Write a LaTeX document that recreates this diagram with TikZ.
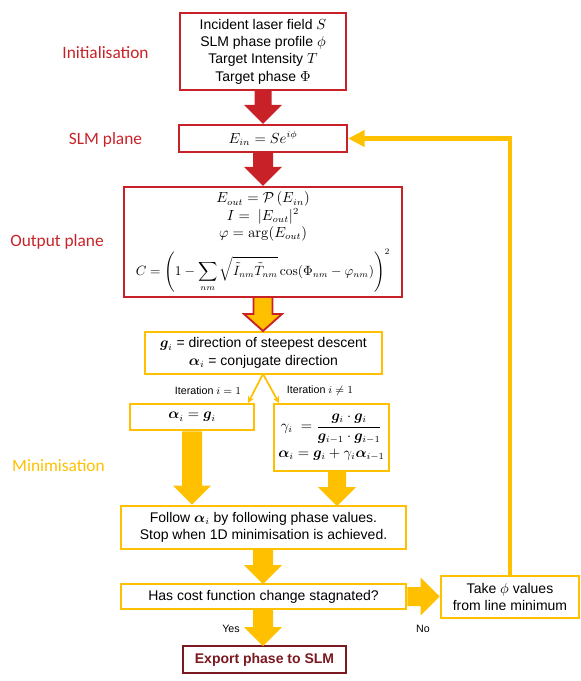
\documentclass[tikz,border=0pt]{standalone}
\usepackage{amsmath}
\usepackage{bm}
\usepackage{graphicx}
\usepackage[no-math]{fontspec}
\setmainfont{Liberation Sans}
\newfontfamily\labelfont{Carlito}
\usetikzlibrary{calc,arrows.meta}
\definecolor{myred}{RGB}{200,34,40}
\definecolor{myyellow}{RGB}{255,192,0}
\definecolor{mydark}{RGB}{122,26,32}
\tikzset{
  basebox/.style={draw, fill=white, align=center, inner sep=0pt, font=\fontsize{10.5}{13}\selectfont},
  redbox/.style={basebox, draw=myred, line width=1.6pt},
  yelbox/.style={basebox, draw=myyellow, line width=1.9pt},
  darkbox/.style={basebox, draw=mydark, line width=1.5pt, text=mydark, font=\fontsize{10.5}{13}\selectfont\bfseries},
  sidelabel/.style={font=\labelfont\fontsize{13}{15}\selectfont},
  smalllabel/.style={font=\fontsize{8}{10}\selectfont},
  redarrow/.style={fill=myred},
  yelarrow/.style={fill=myyellow},
  mixarrow/.style={fill=myyellow, draw=myred, line width=1.4pt, line join=miter},
  thinarrow/.style={draw=myyellow, line width=1.3pt, -{Stealth[length=5pt,width=5pt]}},
  loopline/.style={draw=myyellow, line width=3.6pt, -{Triangle[length=12.5pt,width=12pt]}}
}
% vertical block arrow: #1 start, #2 tip, #3 shaft hw, #4 head hw, #5 head length, #6 style
\newcommand\vblock[6]{\path[#6] ($(#1)+(-#3,0)$) -- ($(#1)+(#3,0)$) -- ($(#2)+(#3,-#5)$) -- ($(#2)+(#4,-#5)$) -- (#2) -- ($(#2)+(-#4,-#5)$) -- ($(#2)+(-#3,-#5)$) -- cycle;}
% horizontal block arrow (pointing right)
\newcommand\hblock[6]{\path[#6] ($(#1)+(0,-#3)$) -- ($(#1)+(0,#3)$) -- ($(#2)+(-#5,#3)$) -- ($(#2)+(-#5,#4)$) -- (#2) -- ($(#2)+(-#5,-#4)$) -- ($(#2)+(-#5,-#3)$) -- cycle;}
\begin{document}
\begin{tikzpicture}[x=0.75pt,y=-0.75pt]
\useasboundingbox (0,0) rectangle (581,681);

% boxes
\node[redbox, minimum width={166*0.75pt}, minimum height={77*0.75pt}] (top) at (263,51.5)
  {Incident laser field $S$\\ SLM phase profile $\phi$\\ Target Intensity $T$\\ Target phase $\Phi$};
\node[redbox, minimum width={168*0.75pt}, minimum height={27*0.75pt}] (slm) at (263,138.5)
  {$E_{in} = Se^{i\phi}$};
\node[redbox, minimum width={278*0.75pt}, minimum height={110*0.75pt}] (out) at (263,242)
  {$E_{out} = \mathcal{P}\,(E_{in})$\\ $I = \ |E_{out}|^2$\\ $\varphi = \arg(E_{out})$\\[5pt]
   \scalebox{0.92}{$\displaystyle C = \left(1-\sum_{nm}\sqrt{\tilde{I}_{nm}\tilde{T}_{nm}}\cos(\Phi_{nm}-\varphi_{nm})\right)^{2}$}};
\node[yelbox, minimum width={237*0.75pt}, minimum height={42*0.75pt}] (g) at (263.5,353)
  {$\bm{g}_i$ = direction of steepest descent\\ $\bm{\alpha}_i$ = conjugate direction};
\node[yelbox, minimum width={124*0.75pt}, minimum height={26*0.75pt}] (alpha) at (192,417)
  {$\bm{\alpha}_i = \bm{g}_i$};
\node[yelbox, minimum width={115*0.75pt}, minimum height={67*0.75pt}] (gamma) at (331.5,437.5)
  {$\gamma_i \ = \dfrac{\bm{g}_i\cdot\bm{g}_i}{\bm{g}_{i-1}\cdot\bm{g}_{i-1}}$\\[3pt] $\bm{\alpha}_i = \bm{g}_i + \gamma_i\bm{\alpha}_{i-1}$};
\node[yelbox, minimum width={285*0.75pt}, minimum height={43*0.75pt}] (follow) at (263.5,527.5)
  {Follow $\bm{\alpha}_i$ by following phase values.\\ Stop when 1D minimisation is achieved.};
\node[yelbox, minimum width={285*0.75pt}, minimum height={25*0.75pt}] (has) at (263.5,596.5)
  {Has cost function change stagnated?};
\node[yelbox, minimum width={138*0.75pt}, minimum height={42*0.75pt}] (take) at (510,597)
  {Take $\phi$ values\\ from line minimum};
\node[darkbox, minimum width={163*0.75pt}, minimum height={27*0.75pt}] (export) at (264.5,659.5)
  {Export phase to SLM};

% side labels
\node[sidelabel, text=myred] (l1) at (105.5,53) {Initialisation};
\node[sidelabel, text=myred] (l2) at (105.5,140) {SLM plane};
\node[sidelabel, text=myred] (l3) at (57,242) {Output plane};
\node[sidelabel, text=myyellow] (l4) at (58.5,466) {Minimisation};

% small labels
\node[smalllabel] (it1) at (208,391) {Iteration $i = 1$};
\node[smalllabel] (it2) at (320,391) {Iteration $i \neq 1$};
\node[smalllabel] (yes) at (231,629) {Yes};
\node[smalllabel] (no) at (423,629) {No};

% block arrows
\coordinate (t1) at (top.south |- slm.north);
\vblock{top.south}{t1}{8.5}{19}{19}{redarrow}
\coordinate (t2) at (slm.south |- out.north);
\vblock{slm.south}{t2}{10}{19}{19}{redarrow}
\coordinate (s3) at (263,297);
\coordinate (t3) at (263,331);
\vblock{s3}{t3}{9.5}{19}{17}{mixarrow}
\coordinate (t4) at (alpha.south |- follow.north);
\vblock{alpha.south}{t4}{10}{19}{19}{yelarrow}
\coordinate (s5) at (337,471);
\coordinate (t5) at (337,506);
\vblock{s5}{t5}{9}{19}{19}{yelarrow}
\coordinate (s6) at (263,549);
\coordinate (t6) at (263,584);
\vblock{s6}{t6}{10}{19}{19}{yelarrow}
\coordinate (s7) at (263,609);
\coordinate (t7) at (263,646);
\vblock{s7}{t7}{10}{19}{19}{yelarrow}
\coordinate (t8) at (take.west |- has.east);
\hblock{has.east}{t8}{9.5}{19}{19}{yelarrow}

% thin branch arrows
\coordinate (gs) at (263,374);
\draw[thinarrow] (gs) -- (248,403);
\draw[thinarrow] (gs) -- (279,403);

% feedback loop
\draw[loopline] (take.north) -- (take.north |- slm.east) -- (slm.east);
\end{tikzpicture}
\end{document}
